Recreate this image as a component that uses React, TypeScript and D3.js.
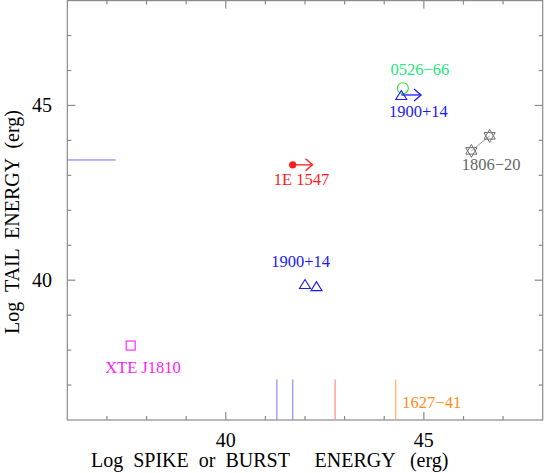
import React from "react";
import * as d3 from "d3";

// ---- data ----
const xDomain = [36, 48];
const yDomain = [36, 48];
const majorTicks = [40, 45];
const minorTicks = [37, 38, 39, 41, 42, 43, 44, 46, 47];

const triangleX = [44.43, 42.0, 42.29];
const triangleY = [45.3, 39.89, 39.83];
const starX = [46.2, 46.66];
const starY = [43.7, 44.13];
const circleX = [44.47];
const circleY = [45.49];
const dotX = [41.69];
const dotY = [43.3];
const squareX = [37.6];
const squareY = [38.13];

const arrowX = [44.43, 41.69];
const arrowY = [45.3, 43.3];
const arrowLen = 0.5;
const arrowColors = ["#1a1aff", "#ff1a1a"];

const spikeX = [41.29, 41.69, 42.76, 44.29];
const spikeTop = 37.16;
const spikeColors = ["#8c8cff", "#8c8cff", "#ff8c8c", "#ffb060"];

const hLineY = 43.44;
const hLineXEnd = 37.22;

const labelText = ["0526\u221266", "1900+14", "1806\u221220", "1E 1547", "1900+14", "XTE J1810", "1627\u221241"];
const labelX = [44.9, 44.86, 46.7, 41.91, 41.89, 37.91, 45.2];
const labelY = [45.87, 44.66, 43.15, 42.72, 40.37, 37.34, 36.33];
const labelColors = ["#1ee87e", "#1a1aff", "#666666", "#ff1a1a", "#1a1aff", "#ff1aff", "#ff8c1a"];

const W = 545;
const H = 473;
const FONT = "Liberation Serif, Times New Roman, serif";

export default function App() {
  const x = d3.scaleLinear().domain(xDomain).range([67.3, 542.7]);
  const y = d3.scaleLinear().domain(yDomain).range([420, 0.6]);
  const x0 = x.range()[0], x1 = x.range()[1];
  const y0 = y.range()[0], y1 = y.range()[1];
  const axisColor = "#8a8a8a";
  const tf = { fontFamily: FONT, whiteSpace: "pre" as const };

  const triPath = (cx: number, cy: number, w = 11, h = 9) =>
    `M${cx - w / 2},${cy + h / 2}L${cx + w / 2},${cy + h / 2}L${cx},${cy - h / 2}Z`;
  const hexPath = (cx: number, cy: number, r = 6.5) => {
    const pts = (off: number) =>
      d3.range(3).map((i) => {
        const a = off + (i * 2 * Math.PI) / 3;
        return [cx + r * Math.sin(a), cy - r * Math.cos(a)];
      });
    const toP = (p: number[][]) => "M" + p.map((q) => q.join(",")).join("L") + "Z";
    return toP(pts(0)) + toP(pts(Math.PI));
  };

  return (
    <svg width={W} height={H} style={{ position: "absolute", left: 0, top: 0 }}>
      <rect x={0} y={0} width={W} height={H} fill="#fff" />
      <rect x={x0} y={y1} width={x1 - x0} height={y0 - y1} fill="none" stroke={axisColor} strokeWidth={1.2} />
      {[...majorTicks.map((t) => [t, 8]), ...minorTicks.map((t) => [t, 4])].map(([t, len], i) => (
        <g key={"xt" + i} stroke={axisColor} strokeWidth={1.2}>
          <line x1={x(t)} x2={x(t)} y1={y0} y2={y0 - len} />
          <line x1={x(t)} x2={x(t)} y1={y1} y2={y1 + len} />
          <line x1={x0} x2={x0 + len} y1={y(t)} y2={y(t)} />
          <line x1={x1} x2={x1 - len} y1={y(t)} y2={y(t)} />
        </g>
      ))}
      {majorTicks.map((t) => (
        <text key={"xl" + t} x={x(t)} y={447} textAnchor="middle" fontSize={20} fill="#000" style={tf}>
          {t}
        </text>
      ))}
      {majorTicks.map((t) => (
        <text key={"yl" + t} x={52} y={y(t) + 7} textAnchor="end" fontSize={20} fill="#000" style={tf}>
          {t}
        </text>
      ))}
      <text x={91} y={467} fontSize={20} fill="#000" style={tf}>
        {"Log  SPIKE  or  BURST     ENERGY   (erg)"}
      </text>
      <text transform={`translate(19,${222}) rotate(-90)`} textAnchor="middle" fontSize={20} fill="#000" style={tf}>
        {"Log  TAIL  ENERGY  (erg)"}
      </text>

      <line x1={x0} x2={x(hLineXEnd)} y1={y(hLineY)} y2={y(hLineY)} stroke="#6a6aff" strokeWidth={1} />
      {spikeX.map((v, i) => (
        <line key={"sp" + i} x1={x(v)} x2={x(v)} y1={y0} y2={y(spikeTop)} stroke={spikeColors[i]} strokeWidth={1.2} />
      ))}

      <line x1={x(starX[0])} y1={y(starY[0])} x2={x(starX[1])} y2={y(starY[1])} stroke="#888" strokeWidth={0.8} />
      {starX.map((v, i) => (
        <path key={"st" + i} d={hexPath(x(v), y(starY[i]))} fill="none" stroke="#707070" strokeWidth={1} />
      ))}

      {arrowX.map((v, i) => {
        const sx = x(v), sy = y(arrowY[i]), ex = x(v + arrowLen);
        return (
          <g key={"ar" + i} stroke={arrowColors[i]} strokeWidth={1.3} fill="none">
            <line x1={sx} x2={ex} y1={sy} y2={sy} />
            <path d={`M${ex - 7},${sy - 6}L${ex},${sy}L${ex - 7},${sy + 6}`} />
          </g>
        );
      })}

      {circleX.map((v, i) => (
        <circle key={"c" + i} cx={x(v)} cy={y(circleY[i])} r={5.5} fill="none" stroke="#33dd33" strokeWidth={1.1} />
      ))}
      {triangleX.map((v, i) => (
        <path key={"tr" + i} d={triPath(x(v), y(triangleY[i]))} fill="none" stroke="#1a1aff" strokeWidth={1.1} />
      ))}
      {dotX.map((v, i) => (
        <circle key={"d" + i} cx={x(v)} cy={y(dotY[i])} r={3.6} fill="#ff1a1a" />
      ))}
      {squareX.map((v, i) => (
        <rect key={"sq" + i} x={x(v) - 4.5} y={y(squareY[i]) - 4.5} width={9} height={9} fill="none" stroke="#ff1aff" strokeWidth={1.1} />
      ))}

      {labelText.map((t, i) => (
        <text key={"lb" + i} x={x(labelX[i])} y={y(labelY[i])} textAnchor="middle" fontSize={16.5} fill={labelColors[i]} style={tf}>
          {t}
        </text>
      ))}
    </svg>
  );
}
